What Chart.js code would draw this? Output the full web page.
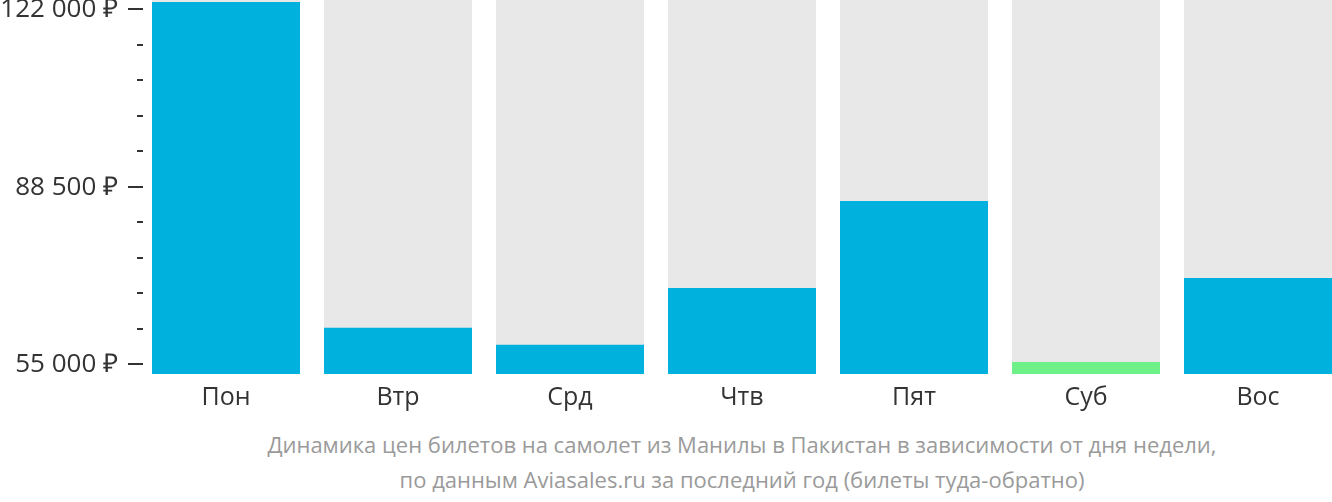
<!DOCTYPE html>
<html lang="ru">
<head>
<meta charset="utf-8">
<script src="https://cdn.jsdelivr.net/npm/chart.js@4"></script>
<style>
  html, body { margin: 0; padding: 0; background: #fff; overflow: hidden; }
  #wrap { position: relative; width: 1332px; height: 502px; overflow: hidden; }
  #box { position: absolute; left: 0; top: 0; width: 1344px; height: 420px; }
  #caption {
    position: absolute; left: 152px; top: 427px; width: 1180px;
    text-align: center; font-family: "Open Sans", sans-serif;
    font-size: 22px; line-height: 35px; color: #9a9a9a;
  }
</style>
</head>
<body>
<div id="wrap">
  <div id="box"><canvas id="grafico-dias"></canvas></div>
  <div id="caption">Динамика цен билетов на самолет из Манилы в Пакистан в зависимости от дня недели,<br>по данным Aviasales.ru за последний год (билеты туда-обратно)</div>
</div>
<script>
// Цены по дням недели
const dias = ['Пон', 'Втр', 'Срд', 'Чтв', 'Пят', 'Суб', 'Вос'];
const precos = [123300, 61900, 58700, 69400, 85800, 55450, 71300];
const coresBarras = ['#00b1dd', '#00b1dd', '#00b1dd', '#00b1dd', '#00b1dd', '#6cf087', '#00b1dd'];

// Eixo Y
const yMin = 53200;
const yMax = 123700;
const yTickValues = [55000, 61700, 68400, 75100, 81800, 88500, 95200, 101900, 108600, 115300, 122000];
const yTickLabels = ['55 000 ₽', '', '', '', '', '88 500 ₽', '', '', '', '', '122 000 ₽'];

const fundo = dias.map(() => yMax);

// marcas e rótulos do eixo Y (longas para rótulos, curtas para o resto)
const eixoY = {
    id: 'eixoY',
    afterDraw(chart) {
        const y = chart.scales.y;
        const ctx = chart.ctx;
        ctx.save();
        ctx.strokeStyle = '#333';
        ctx.fillStyle = '#333';
        ctx.lineWidth = 2;
        ctx.font = '26px "Open Sans"';
        ctx.textAlign = 'right';
        ctx.textBaseline = 'middle';
        yTickValues.forEach((v, i) => {
            const py = Math.round(y.getPixelForValue(v));
            const x0 = yTickLabels[i] ? 128 : 137;
            ctx.beginPath();
            ctx.moveTo(x0, py);
            ctx.lineTo(143, py);
            ctx.stroke();
            if (yTickLabels[i]) {
                ctx.fillText(yTickLabels[i], 118, py + 1);
            }
        });
        ctx.restore();
    }
};

new Chart(document.getElementById('grafico-dias').getContext('2d'), {
    type: 'bar',
    data: {
        labels: dias,
        datasets: [
            {
                label: 'Preço',
                data: precos,
                backgroundColor: coresBarras,
                borderWidth: 0,
                order: 1
            },
            {
                label: 'Fundo',
                data: fundo,
                backgroundColor: '#e8e8e8',
                borderWidth: 0,
                order: 2
            }
        ]
    },
    options: {
        responsive: true,
        maintainAspectRatio: false,
        animation: false,
        layout: { padding: 0 },
        datasets: {
            bar: {
                grouped: false,
                barPercentage: 148 / 172,
                categoryPercentage: 1
            }
        },
        plugins: {
            legend: { display: false },
            tooltip: { enabled: false },
            title: { display: false }
        },
        scales: {
            x: {
                grid: { display: false },
                border: { display: false },
                ticks: {
                    color: '#333',
                    padding: 1,
                    font: { family: 'Open Sans', size: 25 }
                },
                afterFit(scale) { scale.height = 46; }
            },
            y: {
                min: yMin,
                max: yMax,
                grid: { display: false },
                border: { display: false },
                ticks: { display: false },
                afterFit(scale) { scale.width = 140; }
            }
        }
    },
    plugins: [eixoY]
});
</script>
</body>
</html>
